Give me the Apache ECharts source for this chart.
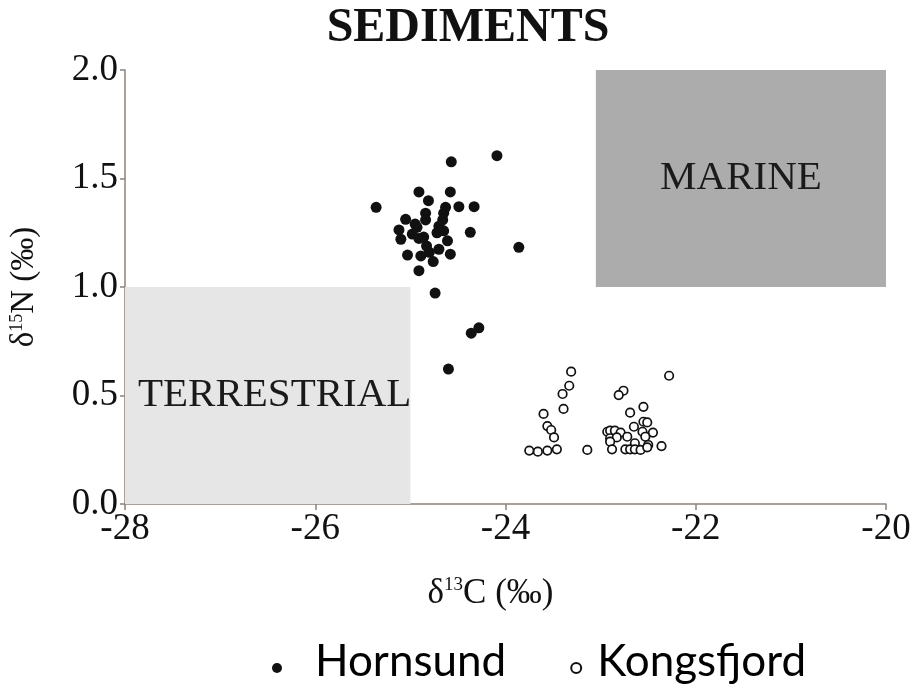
<!DOCTYPE html>
<html>
<head>
<meta charset="utf-8">
<title>SEDIMENTS</title>
<script src="https://cdn.jsdelivr.net/npm/echarts@6/dist/echarts.min.js"></script>
<style>
  html, body { margin: 0; padding: 0; background: #fff; }
  #chart { width: 920px; height: 689px; }
</style>
</head>
<body>
<div id="chart"></div>
<script>
// δ13C / δ15N values (‰) for surface sediments
const hornsundC = [
  -24.09, -24.57, -24.91, -24.58, -24.81, -25.36, -24.49, -24.33, -24.63,
  -24.84, -24.65, -25.05, -24.84, -24.66, -24.93, -25.12, -24.37, -24.72,
  -24.98, -24.65, -24.91, -25.10, -24.61, -23.86, -24.83, -24.70, -25.03,
  -24.89, -24.58, -24.76, -24.91, -24.74, -24.28, -24.36, -24.60,
  -24.95, -24.80, -24.70, -24.86
];
const hornsundN = [
  1.605, 1.577, 1.438, 1.438, 1.398, 1.367, 1.370, 1.370, 1.367,
  1.340, 1.340, 1.312, 1.309, 1.309, 1.275, 1.263, 1.252, 1.250,
  1.244, 1.259, 1.224, 1.220, 1.213, 1.183, 1.189, 1.174, 1.147,
  1.143, 1.151, 1.117, 1.075, 0.972, 0.812, 0.787, 0.622,
  1.290, 1.160, 1.280, 1.230
];

const kongsfjordC = [
  -23.31, -22.28, -23.33, -23.40, -22.76, -22.81, -23.39, -22.55, -23.60,
  -22.69, -23.56, -23.52, -23.49, -22.55, -22.51, -22.65, -22.93, -22.90,
  -22.85, -22.79, -22.56, -22.45, -22.72, -22.90, -22.83, -22.53, -22.90,
  -22.64, -22.50, -22.36, -23.75, -23.66, -23.56, -23.46, -23.14, -22.88,
  -22.74, -22.69, -22.64, -22.58, -22.51
];
const kongsfjordN = [
  0.610, 0.591, 0.545, 0.507, 0.522, 0.502, 0.438, 0.448, 0.415,
  0.421, 0.359, 0.341, 0.307, 0.379, 0.376, 0.356, 0.333, 0.338,
  0.338, 0.329, 0.333, 0.329, 0.310, 0.303, 0.307, 0.310, 0.287,
  0.280, 0.272, 0.267, 0.246, 0.241, 0.246, 0.252, 0.249, 0.252,
  0.252, 0.252, 0.252, 0.249, 0.261
];

// source end-member fields: [xFrom, xTo, yFrom, yTo]
const terrestrialBox = [-28, -25, 0, 1.0];
const marineBox = [-23.05, -20, 1.0, 2.0];

const xTicks = [-28, -26, -24, -22, -20];
const yTicks = [0.0, 0.5, 1.0, 1.5, 2.0];

const pairs = (xs, ys) => xs.map((x, i) => [x, ys[i]]);

const serif = '"Liberation Serif", "DejaVu Serif", serif';
const sans = 'Lato, "Open Sans", sans-serif';
const axisColor = '#8c837b';

const chart = echarts.init(document.getElementById('chart'));
chart.setOption({
  animation: false,
  backgroundColor: '#ffffff',
  title: {
    text: 'SEDIMENTS',
    left: 463,
    top: 0,
    textAlign: 'center',
    textStyle: { fontFamily: serif, fontWeight: 'bold', fontSize: 48, color: '#111' }
  },
  grid: { left: 124, right: 34, top: 70, bottom: 185 },
  legend: {
    left: 267,
    top: 635,
    itemGap: 64,
    itemWidth: 10,
    itemHeight: 10,
    icon: 'circle',
    formatter: name => (name === 'Hornsund' ? '{h|' + name + '}' : '{k|' + name + '}'),
    textStyle: {
      fontFamily: sans, fontSize: 44, color: '#000',
      rich: {
        h: { fontFamily: sans, fontSize: 44, color: '#000', padding: [0, 0, 12, 28] },
        k: { fontFamily: sans, fontSize: 44, color: '#000', padding: [0, 0, 12, 11] }
      }
    },
    data: ['Hornsund', 'Kongsfjord']
  },
  xAxis: {
    type: 'value',
    min: xTicks[0],
    max: xTicks[xTicks.length - 1],
    interval: 2,
    splitLine: { show: false },
    axisLine: { show: true, onZero: false, lineStyle: { color: axisColor, width: 1.5 } },
    axisTick: { show: true, length: 6, lineStyle: { color: axisColor, width: 1.5 } },
    axisLabel: {
      fontFamily: serif, fontSize: 37, color: '#111', margin: 7,
      formatter: v => String(v)
    },
    name: '{a|δ}{s|13}{a|C (‰)}',
    nameLocation: 'middle',
    nameGap: 72,
    nameTextStyle: {
      padding: [0, 30, 0, 0],
      rich: {
        a: { fontFamily: serif, fontSize: 35, color: '#111', verticalAlign: 'bottom' },
        s: { fontFamily: serif, fontSize: 19, color: '#111', verticalAlign: 'top', padding: [0, 0, 16, 0] }
      }
    }
  },
  yAxis: {
    type: 'value',
    min: yTicks[0],
    max: yTicks[yTicks.length - 1],
    interval: 0.5,
    splitLine: { show: false },
    axisLine: { show: true, onZero: false, lineStyle: { color: axisColor, width: 1.5 } },
    axisTick: { show: true, length: 5, lineStyle: { color: axisColor, width: 1.5 } },
    axisLabel: {
      fontFamily: serif, fontSize: 37, color: '#111', margin: 7,
      formatter: v => v.toFixed(1)
    },
    name: '{a|δ}{s|15}{a|N (‰)}',
    nameLocation: 'middle',
    nameRotate: 90,
    nameGap: 84,
    nameTextStyle: {
      rich: {
        a: { fontFamily: serif, fontSize: 33, color: '#111', verticalAlign: 'bottom' },
        s: { fontFamily: serif, fontSize: 18, color: '#111', verticalAlign: 'top', padding: [0, 0, 14, 0] }
      }
    }
  },
  series: [
    {
      name: 'Hornsund',
      type: 'scatter',
      z: 3,
      symbol: 'circle',
      symbolSize: 11,
      itemStyle: { color: '#111', opacity: 1 },
      data: pairs(hornsundC, hornsundN),
      markArea: {
        silent: true,
        z: 1,
        data: [
          [
            {
              xAxis: terrestrialBox[0], yAxis: terrestrialBox[2],
              itemStyle: { color: '#e6e6e6' },
              label: {
                show: true, position: 'insideLeft', offset: [8, 0],
                formatter: 'TERRESTRIAL',
                fontFamily: serif, fontSize: 41, color: '#1a1a1a'
              }
            },
            { xAxis: terrestrialBox[1], yAxis: terrestrialBox[3] }
          ],
          [
            {
              xAxis: marineBox[0], yAxis: marineBox[2],
              itemStyle: { color: '#acacac' },
              label: {
                show: true, position: 'inside',
                formatter: 'MARINE',
                fontFamily: serif, fontSize: 41, color: '#1a1a1a'
              }
            },
            { xAxis: marineBox[1], yAxis: marineBox[3] }
          ]
        ]
      }
    },
    {
      name: 'Kongsfjord',
      type: 'scatter',
      z: 3,
      symbol: 'circle',
      symbolSize: 8.5,
      itemStyle: { color: '#ffffff', borderColor: '#111', borderWidth: 1.7, opacity: 1 },
      data: pairs(kongsfjordC, kongsfjordN)
    }
  ]
});
</script>
</body>
</html>
